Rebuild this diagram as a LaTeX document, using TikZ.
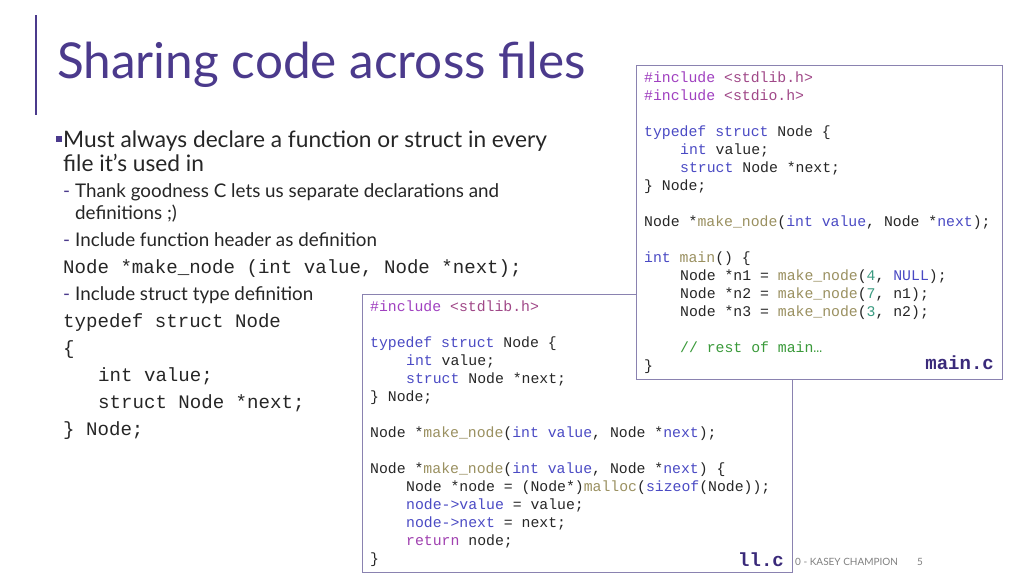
\documentclass[tikz,border=0pt]{standalone}
\usepackage{fontspec}
\setmainfont{Lato}
\newfontfamily\cmono{Liberation Mono}
\definecolor{titlec}{HTML}{4B3A8C}
\definecolor{txt}{HTML}{262626}
\definecolor{kwc}{HTML}{4A4AC4}
\definecolor{ppc}{HTML}{A040C0}
\definecolor{hdc}{HTML}{A04888}
\definecolor{fnc}{HTML}{9A9060}
\definecolor{numc}{HTML}{3A9A80}
\definecolor{comc}{HTML}{3A9A3A}
\definecolor{retc}{HTML}{A040B0}
\definecolor{labc}{HTML}{3A2A7A}
\definecolor{boxc}{HTML}{8A82B0}
\newcommand\ckw[1]{\textcolor{kwc}{#1}}
\newcommand\cpp[1]{\textcolor{ppc}{#1}}
\newcommand\chd[1]{\textcolor{hdc}{#1}}
\newcommand\cfn[1]{\textcolor{fnc}{#1}}
\newcommand\cnum[1]{\textcolor{numc}{#1}}
\newcommand\ccom[1]{\textcolor{comc}{#1}}
\newcommand\cret[1]{\textcolor{retc}{#1}}
\tikzset{
 code/.style={anchor=base west,inner sep=0pt,font=\cmono\fontsize{14.8}{16}\selectfont,text=txt},
 big/.style={anchor=base west,inner sep=0pt,font=\cmono\fontsize{19.1}{21}\selectfont,text=txt},
 main/.style={anchor=base west,inner sep=0pt,font=\fontsize{22.7}{26}\selectfont,text=txt},
 sub/.style={anchor=base west,inner sep=0pt,font=\fontsize{18.8}{21}\selectfont,text=txt},
 lab/.style={anchor=base east,inner sep=0pt,font=\cmono\bfseries\fontsize{19}{20}\selectfont,text=labc},
 cbox/.style={draw=boxc,line width=1pt,fill=white},
}
\begin{document}
\begin{tikzpicture}[x=1pt,y=-1pt]
\useasboundingbox[fill=white] (0,0) rectangle (1024,576);
\draw[titlec,line width=1.5pt] (36,15) -- (36,115);
\node[anchor=base west,inner sep=0pt,font=\fontsize{49.5}{52}\selectfont,text=titlec] (title) at (57,78) {Sharing code across files};
\node[anchor=base west,inner sep=0pt,font=\fontsize{10}{12}\selectfont,text=gray] (foot) at (795,565) {0 - KASEY CHAMPION};
\node[anchor=base east,inner sep=0pt,font=\fontsize{10}{12}\selectfont,text=gray] (pg) at (923,565) {5};
% left text
\node[anchor=center,inner sep=0pt,fill=titlec,minimum size=6pt] (b1) at (59,139) {};
\node[main] (t1) at (63,147) {Must always declare a function or struct in every};
\node[main] (t2) at (63,171) {file it’s used in};
\node[sub] (d1) at (63,197) {\textcolor{titlec}{-}};
\node[sub] (t3) at (75,197) {Thank goodness C lets us separate declarations and};
\node[sub] (t4) at (75,219) {definitions ;)};
\node[sub] (d2) at (63,246) {\textcolor{titlec}{-}};
\node[sub] (t5) at (75,246) {Include function header as definition};
\node[big] (m1) at (63,273) {Node *make\_node (int value, Node *next);};
\node[sub] (d3) at (63,300) {\textcolor{titlec}{-}};
\node[sub] (t6) at (75,300) {Include struct type definition};
\node[big] (m2) at (63,327) {typedef struct Node};
\node[big] (m3) at (63,354) {\{};
\node[big] (m4) at (98,381) {int value;};
\node[big] (m5) at (98,408) {struct Node *next;};
\node[big] (m6) at (63,435) {\} Node;};
% ll.c box
\draw[cbox] (362,294) rectangle (792,572);
\node[code] (l1) at (370,311) {\cpp{\#include} \chd{<stdlib.h>}};
\node[code] (l2) at (370,347) {\ckw{typedef struct} Node \{};
\node[code] (l3) at (406,365) {\ckw{int} value;};
\node[code] (l4) at (406,383) {\ckw{struct} Node *next;};
\node[code] (l5) at (370,401) {\} Node;};
\node[code] (l6) at (370,437) {Node *\cfn{make\_node}(\ckw{int value}, Node *\ckw{next});};
\node[code] (l7) at (370,473) {Node *\cfn{make\_node}(\ckw{int value}, Node *\ckw{next}) \{};
\node[code] (l8) at (406,491) {Node *node = (Node*)\cfn{malloc}(\ckw{sizeof}(Node));};
\node[code] (l9) at (406,509) {\ckw{node->value} = value;};
\node[code] (l10) at (406,527) {\ckw{node->next} = next;};
\node[code] (l11) at (406,545) {\cret{return} node;};
\node[code] (l12) at (370,563) {\}};
\node[lab] (lab1) at (784,566) {ll.c};
% main.c box
\draw[cbox] (636,65) rectangle (1002,379);
\node[code] (c1) at (644,82) {\cpp{\#include} \chd{<stdlib.h>}};
\node[code] (c2) at (644,100) {\cpp{\#include} \chd{<stdio.h>}};
\node[code] (c3) at (644,136) {\ckw{typedef struct} Node \{};
\node[code] (c4) at (680,154) {\ckw{int} value;};
\node[code] (c5) at (680,172) {\ckw{struct} Node *next;};
\node[code] (c6) at (644,190) {\} Node;};
\node[code] (c7) at (644,226) {Node *\cfn{make\_node}(\ckw{int value}, Node *\ckw{next});};
\node[code] (c8) at (644,262) {\ckw{int} \cfn{main}() \{};
\node[code] (c9) at (680,280) {Node *n1 = \cfn{make\_node}(\cnum{4}, \ckw{NULL});};
\node[code] (c10) at (680,298) {Node *n2 = \cfn{make\_node}(\cnum{7}, n1);};
\node[code] (c11) at (680,316) {Node *n3 = \cfn{make\_node}(\cnum{3}, n2);};
\node[code] (c12) at (680,352) {\ccom{// rest of main…}};
\node[code] (c13) at (644,370) {\}};
\node[lab] (lab2) at (994,369) {main.c};
\end{tikzpicture}
\end{document}
